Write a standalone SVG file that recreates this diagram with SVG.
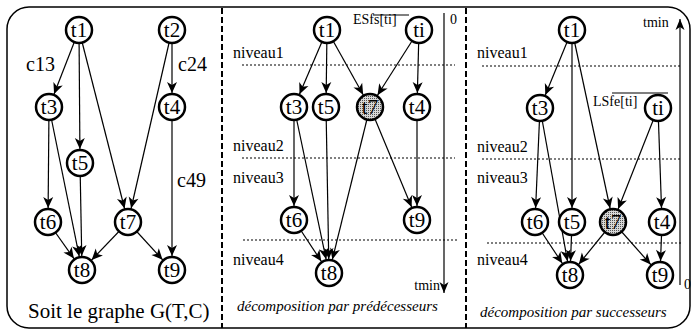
<svg xmlns="http://www.w3.org/2000/svg" width="691" height="331" viewBox="0 0 691 331">
<style>
.n circle{fill:#fff;stroke:#000;stroke-width:2.5}
.n text{font-family:"Liberation Serif",serif;font-size:21px;text-anchor:middle}
.e line{stroke:#000;stroke-width:1.2;marker-end:url(#arr)}
.lbl{font-family:"Liberation Serif",serif;font-size:20px}
.niv{font-family:"Liberation Serif",serif;font-size:16px}
.sm{font-family:"Liberation Serif",serif;font-size:14px}
.cap{font-family:"Liberation Serif",serif;font-size:15px;font-style:italic}
.dot{stroke:#000;stroke-width:1.2;stroke-dasharray:2 2}
.sep{stroke:#000;stroke-width:2;stroke-dasharray:6 3}
.ax{stroke:#000;stroke-width:1.2}
</style>
<defs>
<marker id="arr" markerUnits="userSpaceOnUse" viewBox="-30 -8 32 16" markerWidth="32" markerHeight="16" refX="0" refY="0" orient="auto" style="overflow:visible">
<path d="M-14 0 L-25 -5 L-22 0 L-25 5 Z" fill="#000"/>
</marker>
<marker id="ax" markerUnits="userSpaceOnUse" viewBox="-12 -6 14 12" markerWidth="14" markerHeight="12" refX="0" refY="0" orient="auto" style="overflow:visible">
<path d="M0 0 L-11 -4.5 L-8 0 L-11 4.5 Z" fill="#000"/>
</marker>
<pattern id="stip" width="2" height="2" patternUnits="userSpaceOnUse">
<rect width="2" height="2" fill="#d8d8d8"/>
<rect width="1" height="1" fill="#555"/>
</pattern>
</defs>
<rect width="691" height="331" fill="#fff"/>
<path d="M29 7 H668 A22 22 0 0 1 690 29 V306 A22 22 0 0 1 668 328 H29 A22 22 0 0 1 7 306 V29 A22 22 0 0 1 29 7 Z" fill="none" stroke="#000" stroke-width="1.5"/>
<line class="sep" x1="222" y1="8" x2="222" y2="328"/>
<line class="sep" x1="466" y1="8" x2="466" y2="328"/>

<!-- guides middle -->
<line class="dot" x1="242" y1="65" x2="455" y2="65"/>
<line class="dot" x1="242" y1="158" x2="455" y2="158"/>
<line class="dot" x1="243" y1="240" x2="458" y2="240"/>
<text class="niv" x="233" y="58">niveau1</text>
<text class="niv" x="233" y="151">niveau2</text>
<text class="niv" x="233" y="183">niveau3</text>
<text class="niv" x="233" y="265">niveau4</text>
<line class="ax" x1="444" y1="13" x2="444" y2="293" marker-end="url(#ax)"/>
<text class="sm" x="450" y="24">0</text>
<text class="sm" x="440" y="290" text-anchor="end">tmin</text>
<text class="sm" x="353" y="24">ESfs[ti]</text>
<line class="ax" x1="373" y1="15" x2="409" y2="15"/>
<text class="cap" x="237" y="311">décomposition par prédécesseurs</text>

<!-- guides right -->
<line class="dot" x1="482" y1="66" x2="680" y2="66"/>
<line class="dot" x1="482" y1="159" x2="680" y2="159"/>
<line class="dot" x1="487" y1="243" x2="683" y2="243"/>
<text class="niv" x="477" y="58">niveau1</text>
<text class="niv" x="477" y="152">niveau2</text>
<text class="niv" x="477" y="183">niveau3</text>
<text class="niv" x="477" y="265">niveau4</text>
<line class="ax" x1="680" y1="285" x2="680" y2="19" marker-end="url(#ax)"/>
<text class="sm" x="643" y="27">tmin</text>
<text class="sm" x="684" y="289">0</text>
<text class="sm" x="593" y="106">LSfe[ti]</text>
<line class="ax" x1="612" y1="93" x2="668" y2="93"/>
<text class="cap" x="480" y="317">décomposition par successeurs</text>

<!-- left texts -->
<text class="lbl" x="26" y="71">c13</text>
<text class="lbl" x="178" y="71">c24</text>
<text class="lbl" x="177" y="187">c49</text>
<text class="lbl" x="28" y="318" style="font-size:21px">Soit le graphe G(T,C)</text>

<g id="connectors" class="e">
<!-- left -->
<line x1="79" y1="30" x2="49" y2="107"/>
<line x1="79" y1="30" x2="80" y2="163"/>
<line x1="79" y1="30" x2="128" y2="222"/>
<line x1="172" y1="30" x2="172" y2="107"/>
<line x1="172" y1="30" x2="128" y2="222"/>
<line x1="49" y1="107" x2="48" y2="222"/>
<line x1="49" y1="107" x2="82" y2="270"/>
<line x1="80" y1="163" x2="82" y2="270"/>
<line x1="172" y1="107" x2="172" y2="270"/>
<line x1="48" y1="222" x2="82" y2="270"/>
<line x1="128" y1="222" x2="82" y2="270"/>
<line x1="128" y1="222" x2="172" y2="270"/>
<!-- middle -->
<line x1="327" y1="30" x2="294" y2="107"/>
<line x1="327" y1="30" x2="326" y2="107"/>
<line x1="327" y1="30" x2="370" y2="107"/>
<line x1="419" y1="30" x2="370" y2="107"/>
<line x1="419" y1="30" x2="417" y2="107"/>
<line x1="294" y1="107" x2="294" y2="220"/>
<line x1="294" y1="107" x2="329" y2="273"/>
<line x1="326" y1="107" x2="329" y2="273"/>
<line x1="370" y1="107" x2="329" y2="273"/>
<line x1="370" y1="107" x2="417" y2="220"/>
<line x1="417" y1="107" x2="417" y2="220"/>
<line x1="294" y1="220" x2="329" y2="273"/>
<!-- right -->
<line x1="572" y1="30" x2="540" y2="108"/>
<line x1="572" y1="30" x2="572" y2="222"/>
<line x1="572" y1="30" x2="613" y2="222"/>
<line x1="658" y1="108" x2="613" y2="222"/>
<line x1="658" y1="108" x2="662" y2="222"/>
<line x1="540" y1="108" x2="535" y2="222"/>
<line x1="540" y1="108" x2="570" y2="275"/>
<line x1="572" y1="222" x2="570" y2="275"/>
<line x1="535" y1="222" x2="570" y2="275"/>
<line x1="613" y1="222" x2="570" y2="275"/>
<line x1="613" y1="222" x2="660" y2="275"/>
<line x1="662" y1="222" x2="660" y2="275"/>
</g>

<g id="L-t1" class="n"><circle cx="79" cy="30" r="13"/><text x="79" y="37">t1</text></g>
<g id="L-t2" class="n"><circle cx="172" cy="30" r="13"/><text x="172" y="37">t2</text></g>
<g id="L-t3" class="n"><circle cx="49" cy="107" r="13"/><text x="49" y="114">t3</text></g>
<g id="L-t4" class="n"><circle cx="172" cy="107" r="13"/><text x="172" y="114">t4</text></g>
<g id="L-t5" class="n"><circle cx="80" cy="163" r="13"/><text x="80" y="170">t5</text></g>
<g id="L-t6" class="n"><circle cx="48" cy="222" r="13"/><text x="48" y="229">t6</text></g>
<g id="L-t7" class="n"><circle cx="128" cy="222" r="13"/><text x="128" y="229">t7</text></g>
<g id="L-t8" class="n"><circle cx="82" cy="270" r="13"/><text x="82" y="277">t8</text></g>
<g id="L-t9" class="n"><circle cx="172" cy="270" r="13"/><text x="172" y="277">t9</text></g>

<g id="M-t1" class="n"><circle cx="327" cy="30" r="13"/><text x="327" y="37">t1</text></g>
<g id="M-ti" class="n"><circle cx="419" cy="30" r="13"/><text x="419" y="37">ti</text></g>
<g id="M-t3" class="n"><circle cx="294" cy="107" r="13"/><text x="294" y="114">t3</text></g>
<g id="M-t5" class="n"><circle cx="326" cy="107" r="13"/><text x="326" y="114">t5</text></g>
<g id="M-t7" class="n"><circle cx="370" cy="107" r="13" style="fill:url(#stip)"/><text x="370" y="114">t7</text></g>
<g id="M-t4" class="n"><circle cx="417" cy="107" r="13"/><text x="417" y="114">t4</text></g>
<g id="M-t6" class="n"><circle cx="294" cy="220" r="13"/><text x="294" y="227">t6</text></g>
<g id="M-t9" class="n"><circle cx="417" cy="220" r="13"/><text x="417" y="227">t9</text></g>
<g id="M-t8" class="n"><circle cx="329" cy="273" r="13"/><text x="329" y="280">t8</text></g>

<g id="R-t1" class="n"><circle cx="572" cy="30" r="13"/><text x="572" y="37">t1</text></g>
<g id="R-t3" class="n"><circle cx="540" cy="108" r="13"/><text x="540" y="115">t3</text></g>
<g id="R-ti" class="n"><circle cx="658" cy="108" r="13"/><text x="658" y="115">ti</text></g>
<g id="R-t6" class="n"><circle cx="535" cy="222" r="13"/><text x="535" y="229">t6</text></g>
<g id="R-t5" class="n"><circle cx="572" cy="222" r="13"/><text x="572" y="229">t5</text></g>
<g id="R-t7" class="n"><circle cx="613" cy="222" r="13" style="fill:url(#stip)"/><text x="613" y="229">t7</text></g>
<g id="R-t4" class="n"><circle cx="662" cy="222" r="13"/><text x="662" y="229">t4</text></g>
<g id="R-t8" class="n"><circle cx="570" cy="275" r="13"/><text x="570" y="282">t8</text></g>
<g id="R-t9" class="n"><circle cx="660" cy="275" r="13"/><text x="660" y="282">t9</text></g>
</svg>
